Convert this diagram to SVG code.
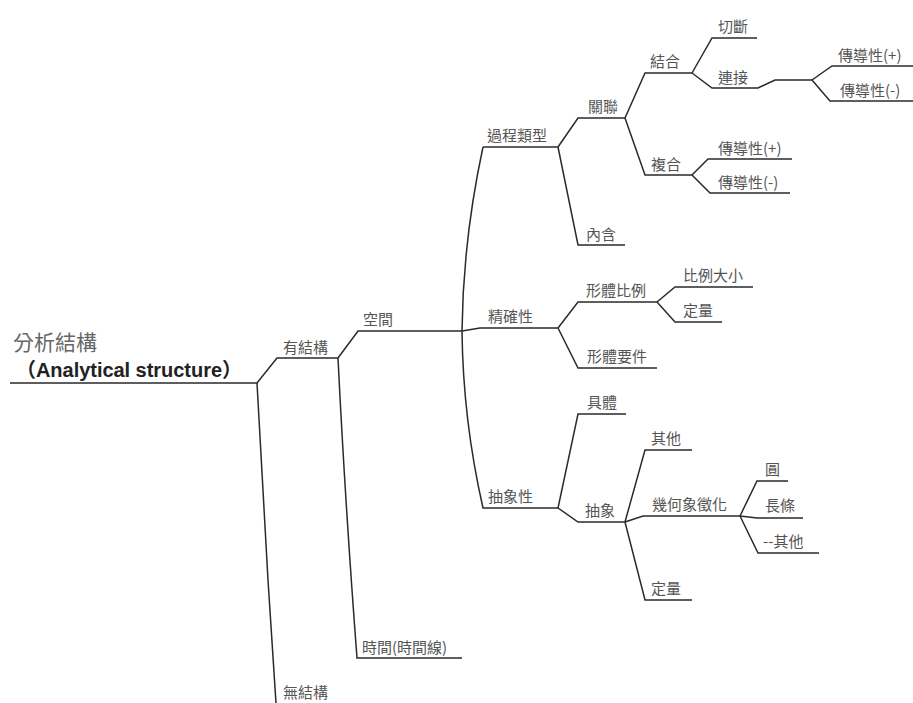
<svg xmlns="http://www.w3.org/2000/svg" width="913" height="703" viewBox="0 0 913 703">
<style>
.c path{fill:none;stroke:#2a2a2a;stroke-width:1.5}
text{font-family:"Noto Sans CJK TC","Noto Sans CJK SC",sans-serif;font-size:15px;fill:#555}
.root{font-size:21px;fill:#666}
.en{font-family:"Liberation Sans","Noto Sans CJK TC",sans-serif;font-size:20px;font-weight:bold;fill:#222}
</style>
<rect width="913" height="703" fill="#fff"/>
<g class="c" id="connectors">
<path d="M10,383 H257 L277,358 H338"/>
<path d="M257,383 L268,580 L276,703"/>
<path d="M338,358 L358,331 H462"/>
<path d="M338,358 Q345,500 357,658 H462"/>
<path d="M483,147 Q463,240 462,331 Q463,420 483,508 H558"/>
<path d="M462,331 L480,328 H558"/>
<path d="M483,147 H558"/>
<path d="M558,147 L578,118 H625"/>
<path d="M558,147 L578,245 H625"/>
<path d="M625,118 L645,73 H692"/>
<path d="M625,118 L645,175 H692"/>
<path d="M692,73 L712,38 H757"/>
<path d="M692,73 L712,88 H758 L775,80 H812"/>
<path d="M812,80 L832,66 H913"/>
<path d="M812,80 L830,101 H913"/>
<path d="M692,175 L708,159 H792"/>
<path d="M692,175 L710,193 H790"/>
<path d="M558,328 L578,302 H657"/>
<path d="M558,328 L578,368 H657"/>
<path d="M657,302 L675,287 H753"/>
<path d="M657,302 L675,322 H722"/>
<path d="M558,508 L578,414 H626"/>
<path d="M558,508 L578,522 H625"/>
<path d="M625,522 L645,450 H692"/>
<path d="M625,522 L643,516 H740"/>
<path d="M625,522 L645,600 H692"/>
<path d="M740,516 L757,481 H788"/>
<path d="M740,516 L757,518 H803"/>
<path d="M740,516 L758,553 H819"/>
</g>
<g id="root"><text class="root" x="13" y="350">分析結構</text><text class="en" x="16" y="377" textLength="226" lengthAdjust="spacing">（Analytical structure）</text></g>
<g id="n-youjiegou"><text x="283" y="353">有結構</text></g>
<g id="n-kongjian"><text x="363" y="325">空間</text></g>
<g id="n-shijian"><text x="362" y="653">時間(時間線)</text></g>
<g id="n-wujiegou"><text x="283" y="698">無結構</text></g>
<g id="n-guocheng"><text x="487" y="141">過程類型</text></g>
<g id="n-jingque"><text x="488" y="322">精確性</text></g>
<g id="n-chouxiangxing"><text x="488" y="502">抽象性</text></g>
<g id="n-guanlian"><text x="588" y="112">關聯</text></g>
<g id="n-neihan"><text x="586" y="240">內含</text></g>
<g id="n-jiehe"><text x="650" y="67">結合</text></g>
<g id="n-fuhe"><text x="651" y="170">複合</text></g>
<g id="n-qieduan"><text x="718" y="32">切斷</text></g>
<g id="n-lianjie"><text x="718" y="83">連接</text></g>
<g id="n-cd1"><text x="838" y="61">傳導性(+)</text></g>
<g id="n-cd2"><text x="840" y="96">傳導性(-)</text></g>
<g id="n-cd3"><text x="718" y="154">傳導性(+)</text></g>
<g id="n-cd4"><text x="718" y="188">傳導性(-)</text></g>
<g id="n-xingtibili"><text x="586" y="296">形體比例</text></g>
<g id="n-xingtiyaojian"><text x="587" y="362">形體要件</text></g>
<g id="n-bilidaxiao"><text x="683" y="281">比例大小</text></g>
<g id="n-dingliang1"><text x="683" y="316">定量</text></g>
<g id="n-juti"><text x="587" y="408">具體</text></g>
<g id="n-chouxiang"><text x="585" y="516">抽象</text></g>
<g id="n-qita1"><text x="651" y="444">其他</text></g>
<g id="n-jihe"><text x="652" y="510">幾何象徵化</text></g>
<g id="n-dingliang2"><text x="651" y="594">定量</text></g>
<g id="n-yuan"><text x="765" y="475">圓</text></g>
<g id="n-changtiao"><text x="765" y="511">長條</text></g>
<g id="n-qita2"><text x="763" y="547">--其他</text></g>
</svg>
